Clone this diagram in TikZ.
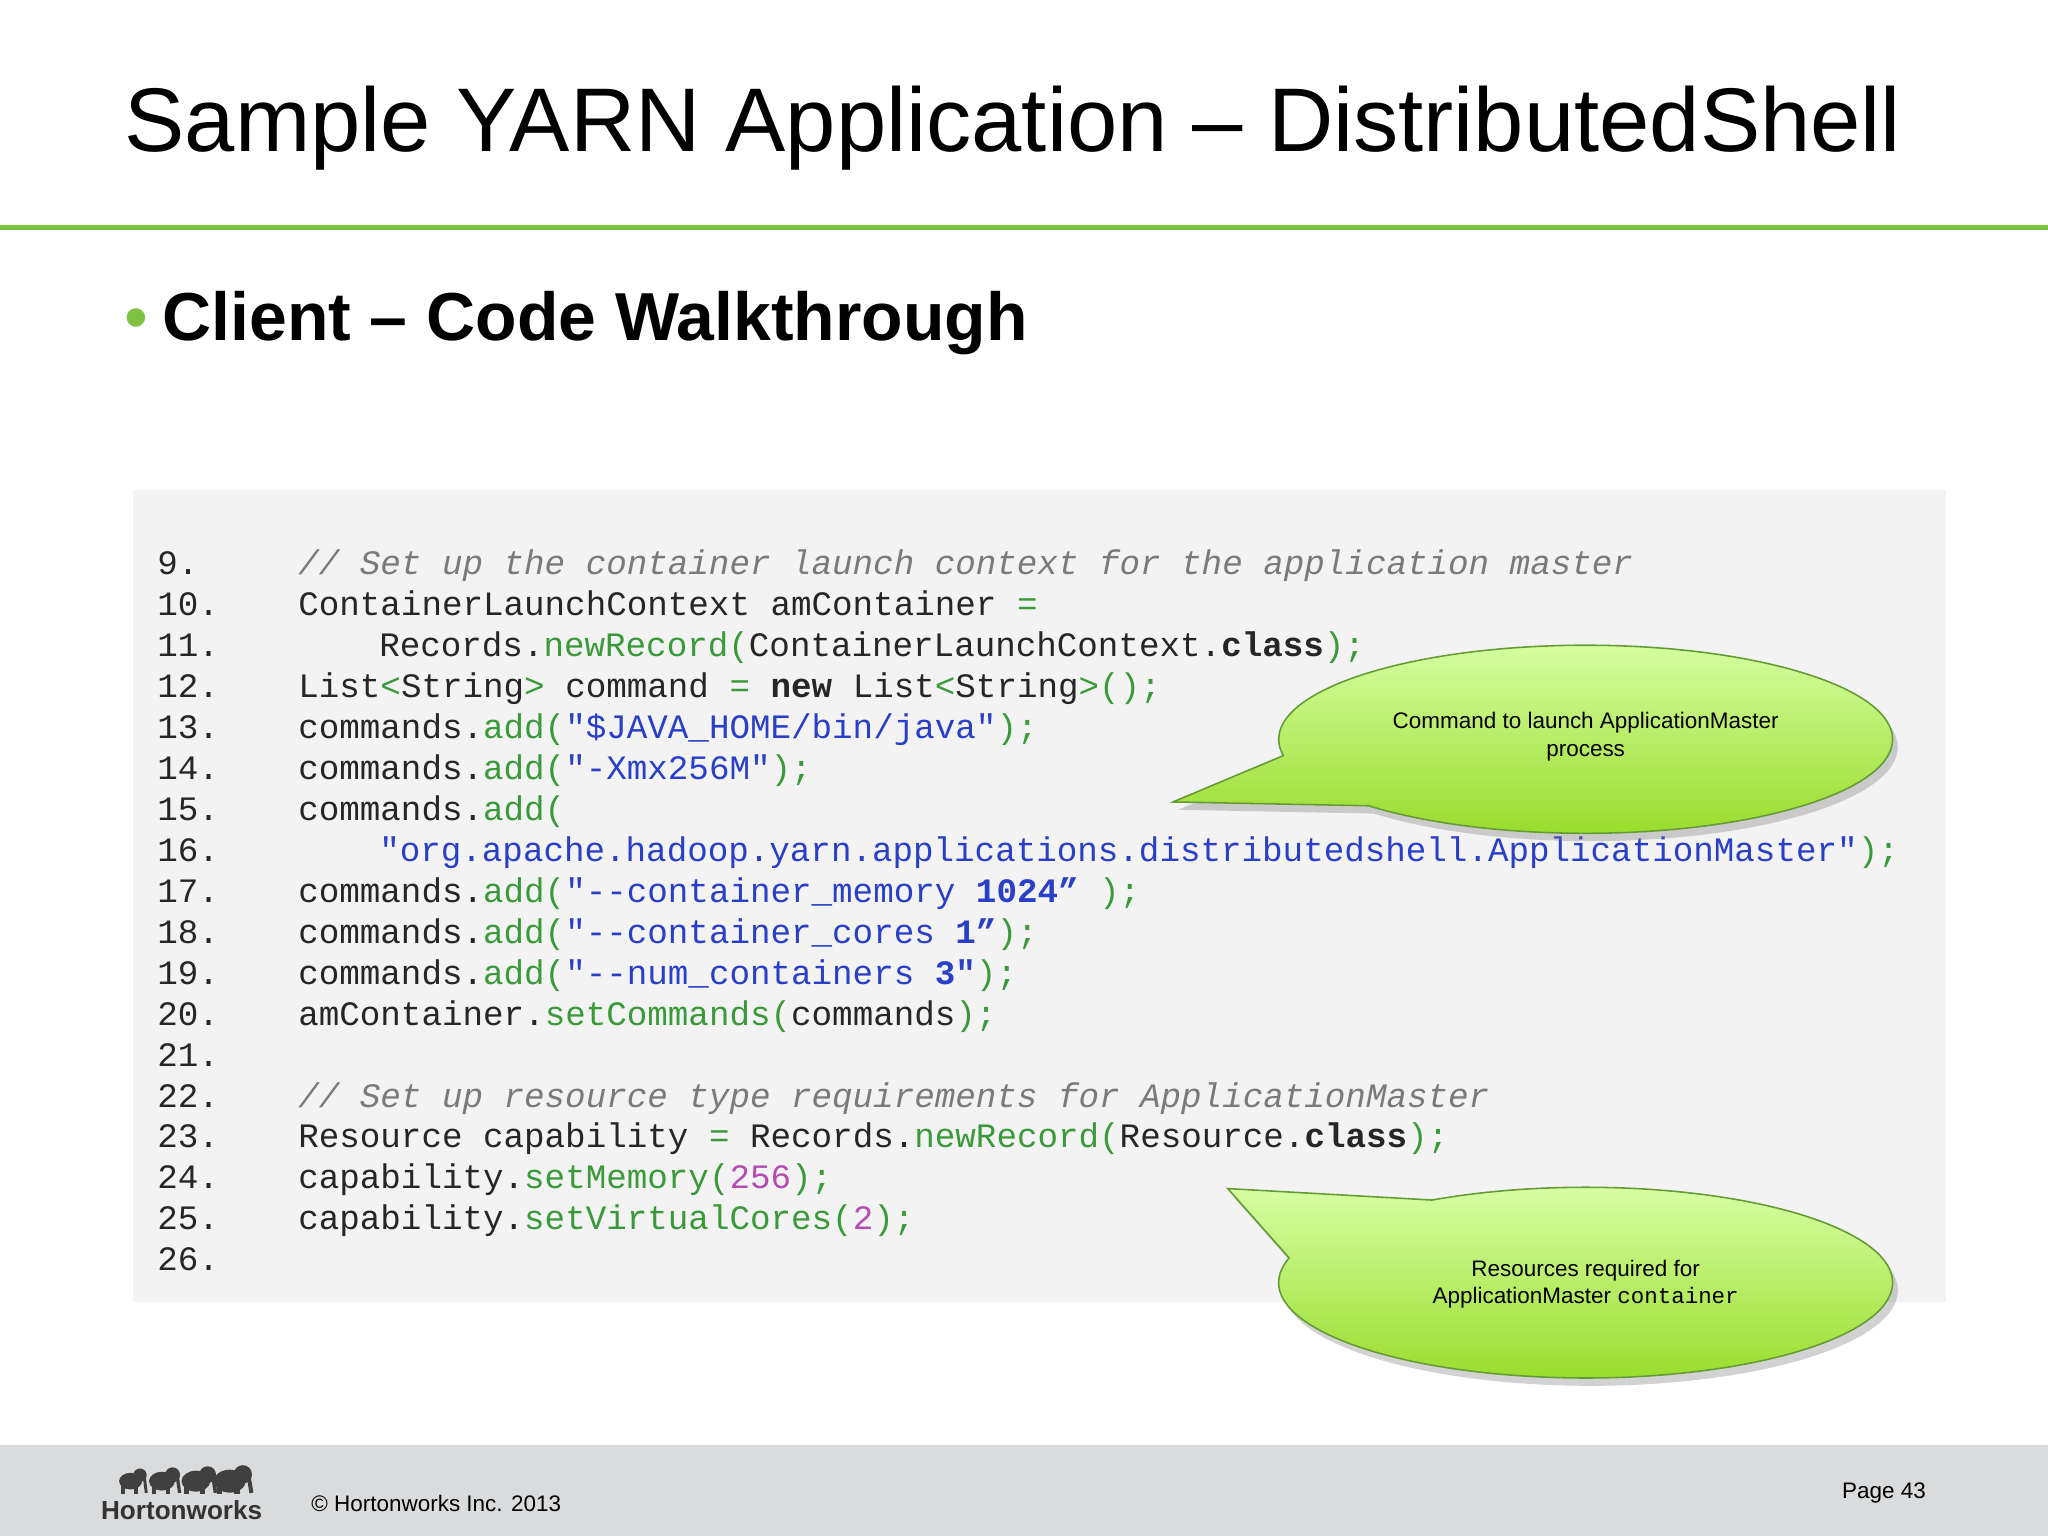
\documentclass[tikz,border=0pt]{standalone}
\usepackage{fontspec}
\setmainfont{Liberation Sans}
\setmonofont{Liberation Mono}
\usetikzlibrary{shadows}
\definecolor{hgreen}{HTML}{7DC242}
\definecolor{cgreen}{HTML}{3A9A3A}
\definecolor{cblue}{HTML}{2A3FC8}
\definecolor{cpurp}{HTML}{B44CB4}
\definecolor{cgray}{HTML}{7A7A7A}
\definecolor{boxbg}{HTML}{F3F3F3}
\definecolor{foot}{HTML}{DADBDC}
\newcommand{\cC}[1]{\textcolor{cgray}{\itshape #1}}
\newcommand{\cF}[1]{\textcolor{cgreen}{#1}}
\newcommand{\cS}[1]{\textcolor{cblue}{#1}}
\newcommand{\cN}[1]{\textcolor{cpurp}{#1}}
\newcommand{\cB}[1]{\textbf{#1}}
\begin{document}
\begin{tikzpicture}[x=0.5pt,y=-0.5pt,
  code/.style={anchor=base west,inner sep=0pt,font=\ttfamily\fontsize{13.1pt}{15pt}\selectfont,text=black!85},
  callout/.style={draw=hgreen!80!black,line width=0.6pt,top color=green!25!lime!35!white,bottom color=hgreen!60!lime,drop shadow={opacity=0.35,shadow xshift=2pt,shadow yshift=-3pt}},
  ctext/.style={align=center,font=\fontsize{8.6pt}{10.5pt}\selectfont,inner sep=0pt}]
\useasboundingbox (0,0) rectangle (1568,1176);
\fill[white] (0,0) rectangle (1568,1176);
% title
\node[anchor=base west,inner sep=0pt,font=\fontsize{34.6pt}{40pt}\selectfont] (title) at (95,116) {Sample YARN Application – DistributedShell};
\fill[hgreen] (0,172) rectangle (1568,176);
\node[anchor=base west,inner sep=0pt,text=hgreen,font=\fontsize{26pt}{30pt}\selectfont] (bul) at (95,261) {•};
\node[anchor=base west,inner sep=0pt,font=\bfseries\fontsize{26pt}{30pt}\selectfont] (sub) at (124,261) {Client – Code Walkthrough};
% code box
\fill[boxbg] (102,375) rectangle (1490,997);
\foreach \n [count=\k from 0] in {9,...,26}{
  \node[code] (ln\n) at (120,{440+31.35*\k}) {\n.};
}
\node[code] (c9) at (228,440) {\cC{// Set up the container launch context for the application master}};
\node[code] (c10) at (228,471.35) {ContainerLaunchContext amContainer \cF{=}};
\node[code] (c11) at (290,502.7) {Records.\cF{newRecord(}ContainerLaunchContext.\cB{class}\cF{);}};
\node[code] (c12) at (228,534.05) {List\cF{<}String\cF{>} command \cF{=} \cB{new} List\cF{<}String\cF{>();}};
\node[code] (c13) at (228,565.4) {commands.\cF{add(}\cS{"\$JAVA\_HOME/bin/java"}\cF{);}};
\node[code] (c14) at (228,596.75) {commands.\cF{add(}\cS{"-Xmx256M"}\cF{);}};
\node[code] (c15) at (228,628.1) {commands.\cF{add(}};
\node[code] (c16) at (290,659.45) {\cS{"org.apache.hadoop.yarn.applications.distributedshell.ApplicationMaster"}\cF{);}};
\node[code] (c17) at (228,690.8) {commands.\cF{add(}\cS{"--container\_memory \textbf{1024”}}\cF{\ );}};
\node[code] (c18) at (228,722.15) {commands.\cF{add(}\cS{"--container\_cores \textbf{1”}}\cF{);}};
\node[code] (c19) at (228,753.5) {commands.\cF{add(}\cS{"--num\_containers \textbf{3"}}\cF{);}};
\node[code] (c20) at (228,784.85) {amContainer.\cF{setCommands(}commands\cF{);}};
\node[code] (c22) at (228,847.55) {\cC{// Set up resource type requirements for ApplicationMaster}};
\node[code] (c23) at (228,878.9) {Resource capability \cF{=} Records.\cF{newRecord(}Resource.\cB{class}\cF{);}};
\node[code] (c24) at (228,910.25) {capability.\cF{setMemory(}\cN{256}\cF{);}};
\node[code] (c25) at (228,941.6) {capability.\cF{setVirtualCores(}\cN{2}\cF{);}};
% callout 1
\coordinate (tip1) at (898,614);
\path[callout] (tip1) -- ({1214+235*cos(225)},{566-72*sin(225)}) arc[start angle=225,end angle=550,x radius=117.5pt,y radius=36pt] -- cycle;
\node[ctext] (t1) at (1214,564) {Command to launch ApplicationMaster\\process};
% callout 2
\coordinate (tip2) at (940,910);
\path[callout] (tip2) -- ({1214+235*cos(165)},{982-73*sin(165)}) arc[start angle=165,end angle=480,x radius=117.5pt,y radius=36.5pt] -- cycle;
\node[ctext] (t2) at (1214,983) {Resources required for\\ApplicationMaster {\ttfamily container}};
% footer
\fill[foot] (0,1106) rectangle (1568,1176);
\node[anchor=base west,inner sep=0pt,font=\fontsize{8.6pt}{10pt}\selectfont] (copy) at (238,1157) {© Hortonworks Inc. 2013};
\node[anchor=base west,inner sep=0pt,font=\fontsize{8.6pt}{10pt}\selectfont] (page) at (1410,1147) {Page 43};
\node[anchor=base west,inner sep=0pt,font=\bfseries\fontsize{10pt}{12pt}\selectfont,text=black!80] (logo) at (77,1163) {Hortonworks};
\foreach \ex/\sc in {100/0.8,124/0.9,150/1.0,176/1.1}{
  \fill[black!75] (\ex,1134) ellipse[x radius={5.5pt*\sc},y radius={4pt*\sc}];
  \fill[black!75] ({\ex+9*\sc},{1131-2*\sc}) circle[radius={3.2pt*\sc}];
  \draw[black!75,line width={1.4pt*\sc}] ({\ex+13*\sc},1130) -- ({\ex+15*\sc},1143);
  \draw[black!75,line width={1.8pt*\sc}] ({\ex-7*\sc},1136) -- ({\ex-7*\sc},1144);
  \draw[black!75,line width={1.8pt*\sc}] ({\ex+5*\sc},1136) -- ({\ex+5*\sc},1144);
}
\end{tikzpicture}
\end{document}
